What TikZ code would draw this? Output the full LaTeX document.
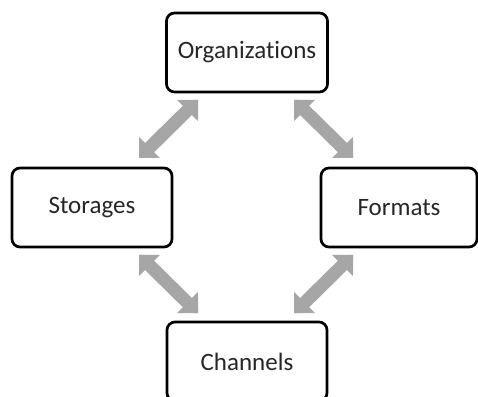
\documentclass[tikz,border=0pt]{standalone}
\usepackage{fontspec}
\setmainfont[Ligatures=NoCommon]{Carlito}
\usetikzlibrary{arrows.meta,calc}
\definecolor{arrowgray}{HTML}{A6A6A6}
\definecolor{textgray}{HTML}{262626}
\tikzset{
  box/.style={draw,line width=2.7pt,rounded corners=8pt,minimum width=161pt,
    minimum height=79pt,inner sep=2pt,text=textgray,font=\fontsize{25}{29}\selectfont},
  link/.style={draw=arrowgray,line width=13pt,
    {Triangle[width=28pt,length=20pt]}-{Triangle[width=28pt,length=20pt]}}
}
\begin{document}
\begin{tikzpicture}[x=1pt,y=1pt]
                \clip (0,0) rectangle (478,396);
                \path (247,343.5) node[box] (org) {Organizations};
                \path (92,188.5) node[box,minimum width=160pt] (stor) {Storages};
                \path (399,188.5) node[box,minimum width=156pt] (form) {Formats};
                \path (247,34.5) node[box,minimum width=160pt] (chan) {Channels};

                \begin{scope}
                  \clip (139,238) rectangle (198,296)
                        (294,238) rectangle (353,296)
                        (139,83) rectangle (198,141)
                        (294,83) rectangle (353,141);
                  \draw[link] ($(org.south west)+(36.5,-3)$) -- ($(stor.north east)+(-38,5)$);
                  \draw[link] ($(org.south east)+(-38.5,-3)$) -- ($(form.north west)+(37,5)$);
                  \draw[link] ($(stor.south east)+(-38,-3)$) -- ($(chan.north west)+(36,4)$);
                  \draw[link] ($(form.south west)+(37,-3)$) -- ($(chan.north east)+(-38,4)$);
                \end{scope}
              \end{tikzpicture}
\end{document}
